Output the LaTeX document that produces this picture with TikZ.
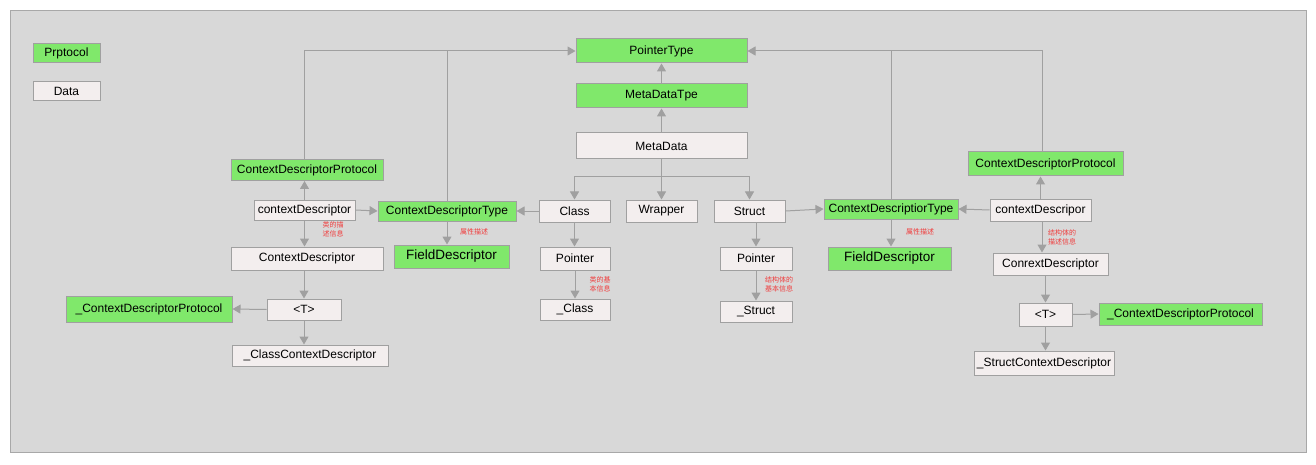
\documentclass[tikz,border=0pt]{standalone}
\usepackage{fontspec}
\setmainfont{Liberation Sans}
\newfontfamily\cjk{Noto Sans CJK SC}
\usetikzlibrary{arrows.meta}
\definecolor{bggray}{RGB}{216,216,216}
\definecolor{framegray}{RGB}{168,168,168}
\definecolor{boxgreen}{RGB}{128,232,107}
\definecolor{boxdata}{RGB}{243,238,238}
\definecolor{boxline}{RGB}{160,160,160}
\definecolor{linegray}{RGB}{160,160,160}
\definecolor{labred}{RGB}{240,60,60}
\tikzset{
  base/.style={draw=boxline, line width=1pt, inner sep=0pt, font=\fontsize{12}{14}\selectfont, text=black},
  gbox/.style={base, fill=boxgreen},
  dbox/.style={base, fill=boxdata},
  arr/.style={draw=linegray, line width=1pt, -{Triangle[length=8pt,width=9pt]}},
  ln/.style={draw=linegray, line width=1pt},
  lab/.style={text=labred, font=\cjk\fontsize{7}{9}\selectfont, align=left, inner sep=0pt}
}
\begin{document}
\begin{tikzpicture}[x=1pt,y=-1pt]
\useasboundingbox (0,0) rectangle (1316,465);
\fill[white] (0,0) rectangle (1316,465);
\draw[framegray, fill=bggray, line width=1pt] (10,11) rectangle (1306,452);

% legend
\node[gbox, minimum width=67pt, minimum height=19pt] (proto) at (66.5,53.5) {Prptocol};
\node[dbox, minimum width=67pt, minimum height=19pt] (data) at (66.5,91.5) {Data};

% center column
\node[gbox, minimum width=171pt, minimum height=24pt] (ptype) at (661.5,51) {PointerType};
\node[gbox, minimum width=171pt, minimum height=24pt] (mdt) at (661.5,96) {MetaDataTpe};
\node[dbox, minimum width=171pt, minimum height=26pt] (md) at (661.5,146) {MetaData};
\node[dbox, minimum width=71pt, minimum height=22pt] (cls) at (574.5,211) {Class};
\node[dbox, minimum width=71pt, minimum height=22pt] (wrap) at (661.5,211) {Wrapper};
\node[dbox, minimum width=71pt, minimum height=22pt] (strct) at (749.5,211) {Struct};
\node[dbox, minimum width=70pt, minimum height=23pt] (ptrL) at (575,258.5) {Pointer};
\node[dbox, minimum width=70pt, minimum height=21pt] (clsU) at (575,309.5) {\_Class};
\node[dbox, minimum width=72pt, minimum height=23pt] (ptrR) at (756,258.5) {Pointer};
\node[dbox, minimum width=72pt, minimum height=21pt] (strU) at (756,311.5) {\_Struct};

% left side
\node[gbox, minimum width=152pt, minimum height=21pt] (cdpL) at (307,170) {ContextDescriptorProtocol};
\node[dbox, minimum width=101pt, minimum height=20pt] (cdL) at (304.5,210) {contextDescriptor};
\node[gbox, minimum width=138pt, minimum height=20pt] (cdtL) at (447,211) {ContextDescriptorType};
\node[gbox, minimum width=115pt, minimum height=23pt, font=\fontsize{13.5}{15}\selectfont] (fdL) at (451.5,256.5) {FieldDescriptor};
\node[dbox, minimum width=152pt, minimum height=23pt] (cdC) at (307,258.5) {ContextDescriptor};
\node[dbox, minimum width=74pt, minimum height=21pt] (tL) at (304,309.5) {<T>};
\node[dbox, minimum width=156pt, minimum height=21pt] (ccd) at (310,355.5) {\_ClassContextDescriptor};
\node[gbox, minimum width=166pt, minimum height=26pt] (ucdpL) at (149,309) {\_ContextDescriptorProtocol};

% right side
\node[gbox, minimum width=155pt, minimum height=24pt] (cdpR) at (1045.5,164) {ContextDescriptorProtocol};
\node[dbox, minimum width=101pt, minimum height=22pt] (cdR) at (1040.5,210) {contextDescripor};
\node[gbox, minimum width=134pt, minimum height=20pt] (cdtR) at (891,209) {ContextDescriptiorType};
\node[gbox, minimum width=123pt, minimum height=23pt, font=\fontsize{13.5}{15}\selectfont] (fdR) at (889.5,258.5) {FieldDescriptor};
\node[dbox, minimum width=115pt, minimum height=22pt] (crd) at (1050.5,264) {ConrextDescriptor};
\node[dbox, minimum width=53pt, minimum height=23pt] (tR) at (1045.5,314.5) {<T>};
\node[gbox, minimum width=163pt, minimum height=22pt] (ucdpR) at (1180.5,314) {\_ContextDescriptorProtocol};
\node[dbox, minimum width=140pt, minimum height=24pt] (scd) at (1044,363) {\_StructContextDescriptor};

% center connectors
\draw[arr] (mdt.north) -- (ptype.south);
\draw[arr] (md.north) -- (mdt.south);
\coordinate (bus) at (661.5,177);
\draw[arr] (md.south) -- (wrap.north);
\draw[arr] (bus) -| (cls.north);
\draw[arr] (bus) -| (strct.north);
\draw[arr] (cls.west) -- (cdtL.east);
\draw[arr] (cls.south) -- (cls.south |- ptrL.north);
\draw[arr] (ptrL.south) -- (clsU.north);
\draw[arr] (ptrR.north |- strct.south) -- (ptrR.north);
\draw[arr] (ptrR.south) -- (strU.north);
\draw[arr] (strct.east) -- (cdtR.west);

% left connectors
\draw[arr] (cdL.east) -- (cdtL.west);
\draw[arr] (cdL.north) -- (cdL.north |- cdpL.south);
\draw[arr] (cdL.south) -- (cdL.south |- cdC.north);
\draw[arr] (tL.north |- cdC.south) -- (tL.north);
\draw[arr] (tL.west) -- (ucdpL.east);
\draw[arr] (tL.south) -- (tL.south |- ccd.north);
\draw[arr] (cdtL.south) -- (cdtL.south |- fdL.north);
\draw[arr] (cdL.north |- cdpL.north) |- (ptype.west);
\draw[ln] (cdtL.north) -- (cdtL.north |- ptype.west);

% right connectors
\draw[arr] (cdtR.north) |- (ptype.east);
\draw[ln] ([xshift=-3.5pt]cdpR.north) |- (cdtR.north |- ptype.east);
\draw[arr] (cdR.north) -- (cdR.north |- cdpR.south);
\draw[arr] (cdR.west) -- (cdtR.east);
\draw[arr] ([xshift=1.5pt]cdR.south) -- ([xshift=1.5pt]cdR.south |- crd.north);
\draw[arr] (tR.north |- crd.south) -- (tR.north);
\draw[arr] (tR.east) -- (ucdpR.west);
\draw[arr] (tR.south) -- (tR.south |- scd.north);
\draw[arr] (cdtR.south) -- (cdtR.south |- fdR.north);

% labels
\node[lab] (l1) at (333,229.5) {类的描\\述信息};
\node[lab] (l2) at (474,232) {属性描述};
\node[lab] (l3) at (600,284) {类的基\\本信息};
\node[lab] (l4) at (779,284) {结构体的\\基本信息};
\node[lab] (l5) at (920,232) {属性描述};
\node[lab] (l6) at (1062,237) {结构体的\\描述信息};
\end{tikzpicture}
\end{document}
